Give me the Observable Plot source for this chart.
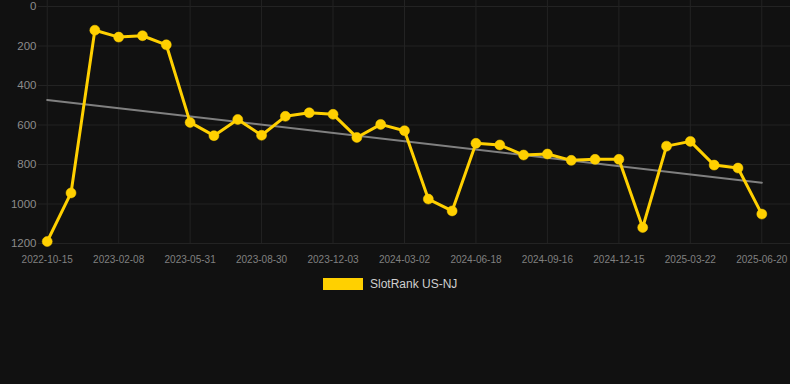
<!DOCTYPE html>
<html>
<head>
<meta charset="utf-8">
<script src="https://cdn.jsdelivr.net/npm/d3@7"></script>
<script src="https://cdn.jsdelivr.net/npm/@observablehq/plot@0.6"></script>
<style>
  html, body { margin: 0; padding: 0; background: #111111; }
  body { width: 790px; height: 384px; overflow: hidden; font-family: "Liberation Sans", Arial, Helvetica, sans-serif; }
  #chart svg { display: block; }
  #legend { display: flex; align-items: center; margin-top: 7px; padding-left: 323px; height: 14px; }
  #legend .sw { width: 40px; height: 12px; background: #FFD000; margin-right: 7px; }
  #legend .lb { font-size: 12px; color: #cfcfcf; }
</style>
</head>
<body>
<div id="chart"></div>
<div id="legend"><span class="sw"></span><span class="lb">SlotRank US-NJ</span></div>
<script>
const seriesName = "SlotRank US-NJ";
const ranks = [1190, 944, 120, 155, 148, 194, 587, 654, 572, 652, 556, 538, 546, 663, 597, 629, 975, 1035, 693, 701, 752, 747, 779, 774, 774, 1119, 707, 683, 803, 818, 1051];
const tickLabels = ["2022-10-15", "2023-02-08", "2023-05-31", "2023-08-30", "2023-12-03", "2024-03-02", "2024-06-18", "2024-09-16", "2024-12-15", "2025-03-22", "2025-06-20"];
const yTicks = [0, 200, 400, 600, 800, 1000, 1200];

const data = ranks.map((r, i) => ({i, rank: r}));
const labelEvery = (ranks.length - 1) / (tickLabels.length - 1);
const xTicks = tickLabels.map((_, k) => k * labelEvery);

const gridColor = "#232323";
const gold = "#FFD000";

const chart = Plot.plot({
  width: 790,
  height: 270,
  marginTop: 0,
  marginLeft: 38,
  marginRight: 0,
  marginBottom: 27,
  insetTop: 6,
  insetLeft: 8.7,
  insetRight: 28.7,
  style: {background: "transparent", color: "#888", fontFamily: "'Liberation Sans', Arial, Helvetica, sans-serif"},
  x: {type: "linear", domain: [0, ranks.length - 1]},
  y: {domain: [0, 1200], reverse: true},
  marks: [
    Plot.ruleY(yTicks, {stroke: gridColor, strokeWidth: 1}),
    Plot.ruleX(xTicks, {stroke: gridColor, strokeWidth: 1}),
    Plot.axisY({ticks: yTicks, tickFormat: d => String(d), tickSize: 0, tickPadding: 2, fontSize: 11.5, fill: "#8c8c8c", label: null}),
    Plot.axisX({ticks: xTicks, tickFormat: v => tickLabels[Math.round(v / labelEvery)], tickSize: 0, tickPadding: 12, fontSize: 10, fill: "#808080", label: null}),
    Plot.linearRegressionY(data, {x: "i", y: "rank", stroke: "#808080", strokeWidth: 2, ci: 0}),
    Plot.line(data, {x: "i", y: "rank", stroke: gold, strokeWidth: 3}),
    Plot.dot(data, {x: "i", y: "rank", r: 5, fill: gold, stroke: gold, strokeWidth: 0.5})
  ]
});
document.getElementById("chart").appendChild(chart);
</script>
</body>
</html>
